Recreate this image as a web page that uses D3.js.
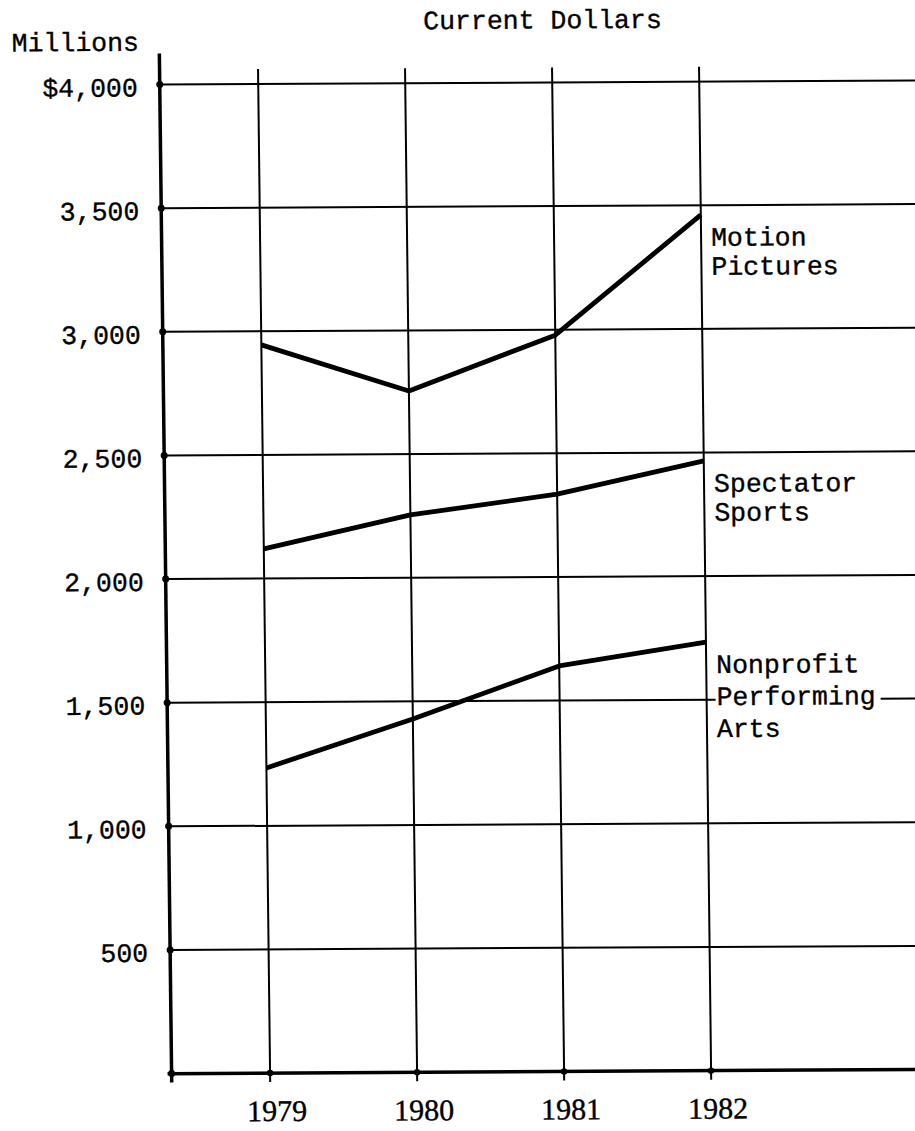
<!DOCTYPE html>
<html>
<head>
<meta charset="utf-8">
<script src="https://cdn.jsdelivr.net/npm/d3@7"></script>
<style>
  body { margin: 0; background: #fff; }
  svg { display: block; }
</style>
</head>
<body>
<div id="chart"></div>
<script>
// values (millions of current dollars)
var years = [1979, 1980, 1981, 1982];
var motionPictures = [2945, 2755, 2978, 3461];
var spectatorSports = [2120, 2254, 2335, 2466];
var nonprofitArts = [1234, 1429, 1640, 1733];

var seriesNames = [["Motion", "Pictures"], ["Spectator", "Sports"], ["Nonprofit", "Performing", "Arts"]];

var yTicks = [500, 1000, 1500, 2000, 2500, 3000, 3500, 4000];
var yTickLabels = ["500", "1,000", "1,500", "2,000", "2,500", "3,000", "3,500", "$4,000"];

var width = 915, height = 1131;
var typeFont = "'Liberation Mono', 'DejaVu Sans Mono', monospace";

var x = d3.scaleLinear().domain([1979, 1982]).range([264, 705]);
var y = d3.scaleLinear().domain([0, 4000]).range([1072, 83]);
var x0 = x(1978.33);

var svg = d3.select("#chart").append("svg")
    .attr("width", width)
    .attr("height", height);

// the scan is a bit skewed: verticals lean right, horizontals rise to the right
var sx = 0.012, sy = -0.0055;
var g = svg.append("g")
    .attr("transform", "matrix(1," + sy + "," + sx + ",1," + (-sx * 565) + "," + (-sy * 457) + ")");

// horizontal grid
g.selectAll("line.hgrid")
    .data(yTicks)
  .enter().append("line")
    .attr("class", "hgrid")
    .attr("x1", x0).attr("x2", width + 20)
    .attr("y1", function(d) { return y(d); })
    .attr("y2", function(d) { return y(d); })
    .attr("stroke", "#000").attr("stroke-width", 2);

// vertical grid
g.selectAll("line.vgrid")
    .data(years)
  .enter().append("line")
    .attr("class", "vgrid")
    .attr("x1", function(d) { return x(d); })
    .attr("x2", function(d) { return x(d); })
    .attr("y1", 68).attr("y2", y(0) + 9)
    .attr("stroke", "#000").attr("stroke-width", 2);

// axes lines
g.append("line")
    .attr("x1", x0).attr("x2", x0)
    .attr("y1", 52).attr("y2", y(0) + 9)
    .attr("stroke", "#000").attr("stroke-width", 3.5);
g.append("line")
    .attr("x1", x0 - 4).attr("x2", width + 20)
    .attr("y1", y(0)).attr("y2", y(0))
    .attr("stroke", "#000").attr("stroke-width", 3.5);

// tick dots
g.selectAll("circle.ytick")
    .data([0].concat(yTicks))
  .enter().append("circle")
    .attr("cx", x0).attr("cy", function(d) { return y(d); })
    .attr("r", 3.5).attr("fill", "#000");
g.selectAll("circle.xtick")
    .data(years)
  .enter().append("circle")
    .attr("cx", function(d) { return x(d); }).attr("cy", y(0))
    .attr("r", 3.2).attr("fill", "#000");

// y labels
var yAxis = d3.axisLeft(y)
    .tickValues(yTicks)
    .tickFormat(function(d, i) { return yTickLabels[i]; })
    .tickSize(0)
    .tickPadding(22);

var yg = g.append("g")
    .attr("transform", "translate(" + x0 + ",0)")
    .call(yAxis);
yg.select(".domain").remove();
yg.attr("font-family", null).attr("font-size", null);
yg.selectAll("text")
    .attr("dy", "0.42em")
    .style("font-family", typeFont)
    .style("font-size", "26.5px")
    .attr("fill", "#000")
    .attr("stroke", "#000").attr("stroke-width", 0.35);

// x labels
var xAxis = d3.axisBottom(x)
    .tickValues(years)
    .tickFormat(d3.format("d"))
    .tickSize(0);

var xg = g.append("g")
    .attr("transform", "translate(0," + y(0) + ")")
    .call(xAxis);
xg.select(".domain").remove();
xg.attr("font-family", null).attr("font-size", null);
xg.selectAll("text")
    .attr("y", 48).attr("dy", null).attr("dx", 6)
    .style("font-family", "'Liberation Serif', 'DejaVu Serif', serif")
    .style("font-size", "30px")
    .attr("fill", "#000")
    .attr("stroke", "#000").attr("stroke-width", 0.4);

// series lines
var line = d3.line()
    .x(function(d, i) { return x(years[i]); })
    .y(function(d) { return y(d); });

var allSeries = [motionPictures, spectatorSports, nonprofitArts];

g.selectAll("path.series")
    .data(allSeries)
  .enter().append("path")
    .attr("class", "series")
    .attr("d", line)
    .attr("fill", "none")
    .attr("stroke", "#000")
    .attr("stroke-width", 4.8)
    .attr("stroke-linejoin", "round");

// series labels, hanging under the last point
allSeries.forEach(function(s, i) {
    var lines = seriesNames[i];
    var top = y(s[s.length - 1]) + 31;
    var lx = x(1982) + 10;
    if (lines.length === 3) {
        // white out the grid line behind "Performing"
        g.append("rect")
            .attr("x", lx - 1).attr("y", y(1500) - 4)
            .attr("width", 165).attr("height", 8)
            .attr("fill", "#fff");
    }
    var t = g.append("text")
        .attr("x", lx).attr("y", top)
        .style("font-family", typeFont)
        .style("font-size", "26.5px")
        .attr("fill", "#000")
        .attr("stroke", "#000").attr("stroke-width", 0.35);
    lines.forEach(function(l, j) {
        t.append("tspan").attr("x", lx).attr("dy", j === 0 ? 0 : (lines.length === 3 ? 32 : 29)).text(l);
    });
});

// titles
g.append("text")
    .attr("x", 549).attr("y", 29)
    .attr("text-anchor", "middle")
    .style("font-family", typeFont)
    .style("font-size", "26.5px")
    .attr("fill", "#000")
    .attr("stroke", "#000").attr("stroke-width", 0.35)
    .text("Current Dollars");

g.append("text")
    .attr("x", 18).attr("y", 49)
    .style("font-family", typeFont)
    .style("font-size", "26.5px")
    .attr("fill", "#000")
    .attr("stroke", "#000").attr("stroke-width", 0.35)
    .text("Millions");
</script>
</body>
</html>
